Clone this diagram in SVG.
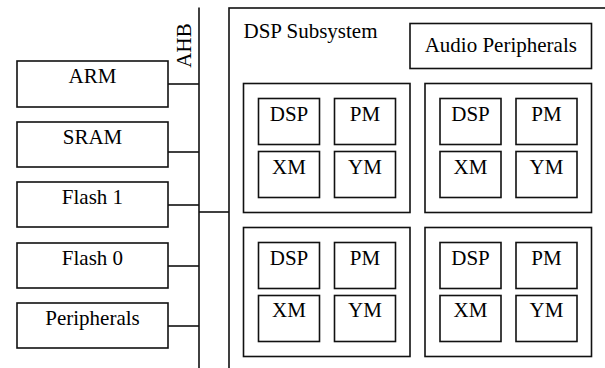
<svg xmlns="http://www.w3.org/2000/svg" width="605" height="368" viewBox="0 0 605 368">
<style>
rect{fill:#fff;stroke:#111;stroke-width:1.6}
.c line{stroke:#111;stroke-width:1.6}
text{font-size:21px;fill:#000;text-anchor:middle}
</style>
<rect width="605" height="368" style="stroke:none"/>
<g class="c" id="connectors">
<line x1="199" y1="7.5" x2="199" y2="368"/>
<line x1="168" y1="84" x2="199" y2="84"/>
<line x1="168" y1="152" x2="199" y2="152"/>
<line x1="168" y1="205" x2="199" y2="205"/>
<line x1="168" y1="266" x2="199" y2="266"/>
<line x1="168" y1="326" x2="199" y2="326"/>
<line x1="199" y1="212" x2="229" y2="212"/>
</g>
<g font-family="'Liberation Serif', 'Times New Roman', 'DejaVu Serif', serif">
<text transform="translate(190.5,45.5) rotate(-90)">AHB</text>
<g id="arm"><rect x="17" y="61" width="151" height="46"/><text x="92.5" y="82.5">ARM</text></g>
<g id="sram"><rect x="17" y="122" width="151" height="45"/><text x="92.5" y="143.5">SRAM</text></g>
<g id="flash1"><rect x="17" y="182" width="151" height="45"/><text x="92.5" y="203.5">Flash 1</text></g>
<g id="flash0"><rect x="17" y="243" width="151" height="45"/><text x="92.5" y="264.5">Flash 0</text></g>
<g id="peripherals"><rect x="17" y="303" width="151" height="45"/><text x="92.5" y="324.5">Peripherals</text></g>
<g id="dsp-subsystem">
<rect x="229" y="8" width="400" height="380"/>
<text x="243.5" y="38" style="text-anchor:start">DSP Subsystem</text>
<g id="audio"><rect x="410" y="23.5" width="181.5" height="45"/><text x="500.8" y="51.5">Audio Peripherals</text></g>
<g id="cluster1"><rect x="243.5" y="83.5" width="166.5" height="129"/>
<rect x="258.5" y="98.5" width="61" height="46"/><text x="289" y="120.5">DSP</text>
<rect x="334.5" y="98.5" width="61" height="46"/><text x="365" y="120.5">PM</text>
<rect x="258.5" y="151.5" width="61" height="46"/><text x="289" y="173.5">XM</text>
<rect x="334.5" y="151.5" width="61" height="46"/><text x="365" y="173.5">YM</text></g>
<g id="cluster2"><rect x="425" y="83.5" width="166.5" height="129"/>
<rect x="440" y="98.5" width="61" height="46"/><text x="470.5" y="120.5">DSP</text>
<rect x="516" y="98.5" width="61" height="46"/><text x="546.5" y="120.5">PM</text>
<rect x="440" y="151.5" width="61" height="46"/><text x="470.5" y="173.5">XM</text>
<rect x="516" y="151.5" width="61" height="46"/><text x="546.5" y="173.5">YM</text></g>
<g id="cluster3"><rect x="243.5" y="227.5" width="166.5" height="129"/>
<rect x="258.5" y="242.5" width="61" height="46"/><text x="289" y="264.5">DSP</text>
<rect x="334.5" y="242.5" width="61" height="46"/><text x="365" y="264.5">PM</text>
<rect x="258.5" y="295.5" width="61" height="46"/><text x="289" y="317">XM</text>
<rect x="334.5" y="295.5" width="61" height="46"/><text x="365" y="317">YM</text></g>
<g id="cluster4"><rect x="425" y="227.5" width="166.5" height="129"/>
<rect x="440" y="242.5" width="61" height="46"/><text x="470.5" y="264.5">DSP</text>
<rect x="516" y="242.5" width="61" height="46"/><text x="546.5" y="264.5">PM</text>
<rect x="440" y="295.5" width="61" height="46"/><text x="470.5" y="317">XM</text>
<rect x="516" y="295.5" width="61" height="46"/><text x="546.5" y="317">YM</text></g>
</g>
</g>
</svg>
